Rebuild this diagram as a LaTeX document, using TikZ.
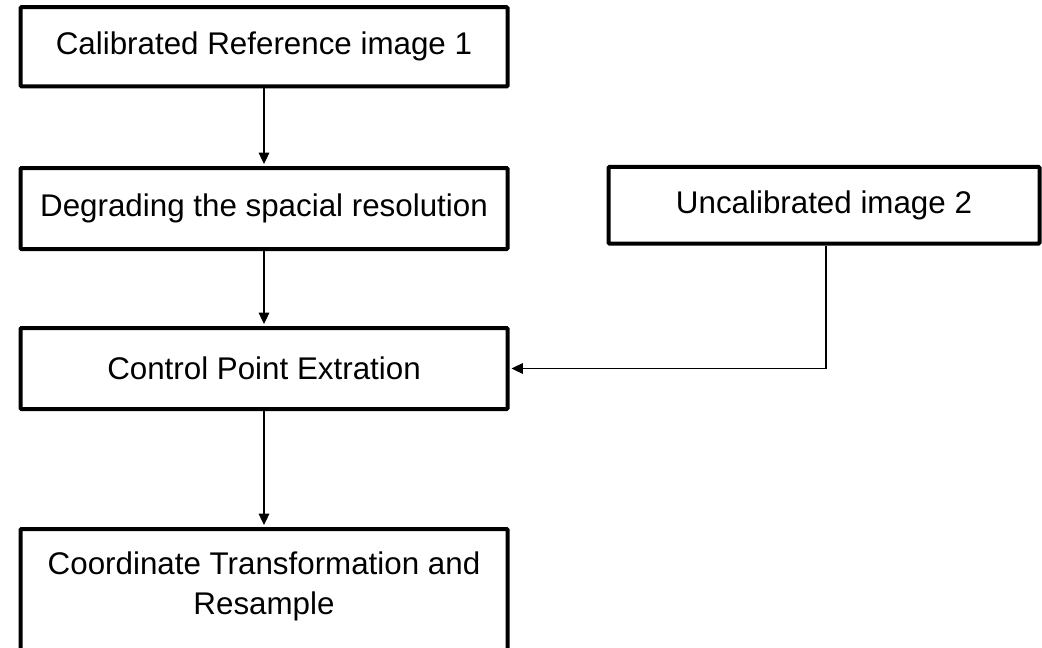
\documentclass[tikz,border=0pt]{standalone}
\usepackage{fontspec}
\setmainfont{Liberation Sans}
\usetikzlibrary{arrows.meta}
\tikzset{
  stepbox/.style={draw=black, line width=3pt, rounded corners=0.8pt, fill=white,
    inner sep=0pt, font=\fontsize{23.5}{30}\selectfont, align=center},
  lbl/.style={inner sep=0pt, font=\fontsize{23.5}{30}\selectfont, align=center},
  flow/.style={line width=0.8pt, -{Triangle[length=8.5pt,width=8pt]}, shorten >=1.5pt}
}
\begin{document}
\begin{tikzpicture}[x=0.75pt, y=-0.75pt]
  \useasboundingbox (0,0) rectangle (1042,647);
  \clip (0,0) rectangle (1042,647);
  \fill[white] (0,0) rectangle (1042,647);

  % left column of processing steps
  \node[stepbox, minimum width=365.25pt, minimum height=59.6pt] (b1) at (264,46.75)
    {Calibrated Reference image 1};
  \node[stepbox, minimum width=365.25pt, minimum height=60.75pt] (b2) at (264,208.5)
    {Degrading the spacial resolution};
  \node[stepbox, minimum width=323.25pt, minimum height=57.5pt] (b3) at (824,205.3)
    {Uncalibrated image 2};
  \node[stepbox, minimum width=365.25pt, minimum height=60.75pt] (b4) at (264,368.5)
    {Control Point Extration};
  \node[stepbox, minimum width=365.25pt, minimum height=112pt, anchor=north] (b5) at (264,527) {};
  \node[lbl] (t5) at (264,586.5) {Coordinate Transformation and\\Resample};

  % connectors
  \coordinate (bend) at (826,368.5);
  \draw[flow] (b1) -- (b2);
  \draw[flow] (b2) -- (b4);
  \draw[flow] (b4) -- (b5.north);
  \draw[flow] (b3.south -| bend) -- (bend) -- (b4.east);
\end{tikzpicture}
\end{document}
